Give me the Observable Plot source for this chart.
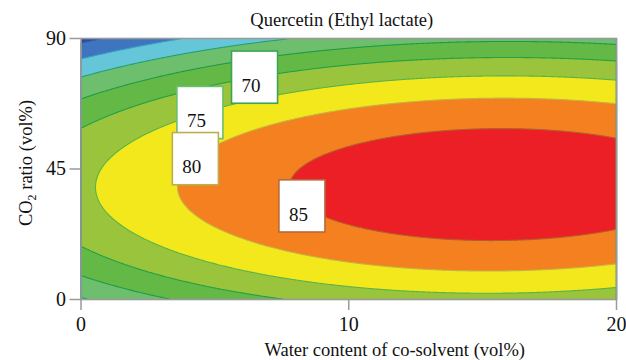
<!DOCTYPE html>
<html>
<head>
<meta charset="utf-8">
<script src="https://cdn.jsdelivr.net/npm/d3@7"></script>
<script src="https://cdn.jsdelivr.net/npm/@observablehq/plot@0.6"></script>
<style>
  html, body { margin: 0; padding: 0; background: #fff; }
</style>
</head>
<body>
<div id="chart"></div>
<script>
// ---- data ----
const title = "Quercetin (Ethyl lactate)";
const xLabel = "Water content of co-solvent (vol%)";
const yLabelMain = "CO";
const yLabelSub = "2";
const yLabelRest = " ratio (vol%)";
const xTicks = [0, 10, 20];
const yTicks = [0, 45, 90];
const xDomain = [0, 20];
const yDomain = [0, 90];

// second-order response surface (terms: 1, x, y, x², y², xy), estimated from contour positions
const surfaceTerms = ["1", "x", "y", "x2", "y2", "xy"];
const surfaceCoefs = [59.47, 1.840, 0.7508, -0.0608, -0.0097, 0.00116];

// filled bands
const fillThresholds = [40, 50, 55, 60, 65, 70, 75, 80, 85];
const bandEdges = [50, 55, 60, 65, 70, 75, 80, 85];
const bandColors = ["#2c4c9f", "#3f74bf", "#64c6d8", "#6dbf6d", "#63b846", "#99c43c", "#f2e81c", "#f4801f", "#ec1f26"];

// contour lines
const lineLevels = [50, 55, 60, 65, 70, 75, 80, 85];
const lineColors = ["#2f5fa8", "#3a9fc6", "#23a070", "#1f9a48", "#22a046", "#5ab348", "#c4b444", "#b0602c"];

// contour labels
const labelLevels = [70, 75, 80, 85];
const labelX = [6.50, 4.46, 4.29, 8.27];
const labelY = [76.5, 64.3, 48.4, 32.1];
const labelColors = ["#3aa655", "#6abf6a", "#b9b04c", "#b8683a"];

// ---- build ----
const surface = (x, y) => {
  const t = [1, x, y, x * x, y * y, x * y];
  return d3.sum(t, (v, i) => v * surfaceCoefs[i]);
};

const labels = labelLevels.map((v, i) => ({level: v, x: labelX[i], y: labelY[i], color: labelColors[i]}));

const font = "Liberation Serif, Times New Roman, serif";
const marks = [];

marks.push(Plot.contour({
  value: surface, x1: xDomain[0], x2: xDomain[1], y1: yDomain[0], y2: yDomain[1],
  thresholds: fillThresholds, fill: "value", stroke: "none", pixelSize: 1
}));

lineLevels.forEach((lv, i) => {
  marks.push(Plot.contour({
    value: surface, x1: xDomain[0], x2: xDomain[1], y1: yDomain[0], y2: yDomain[1],
    thresholds: [lv], fill: "none", stroke: lineColors[i], strokeWidth: 1.1, pixelSize: 1
  }));
});

marks.push(Plot.frame({stroke: "#9a9a9a", strokeWidth: 1.6}));

marks.push(Plot.axisX(xTicks, {
  tickSize: 11, tickPadding: 6, stroke: "#9a9a9a", strokeWidth: 1.5,
  fill: "#111", fontSize: 20, label: null
}));
marks.push(Plot.axisY(yTicks, {
  tickSize: 11, tickPadding: 4, stroke: "#9a9a9a", strokeWidth: 1.5,
  fill: "#111", fontSize: 20, label: null
}));

labels.forEach(d => {
  marks.push(Plot.rect([d], {
    x1: e => e.x - 0.86, x2: e => e.x + 0.86,
    y1: e => e.y - 9, y2: e => e.y + 9,
    fill: "white", stroke: d.color, strokeWidth: 1.6
  }));
  marks.push(Plot.text([d], {
    x: "x", y: "y", text: e => String(e.level),
    dx: -4, dy: 8, fontSize: 19, fill: "#111"
  }));
});

marks.push(Plot.text([title], {frameAnchor: "top", lineAnchor: "middle", dy: -18, dx: -7, fontSize: 18.5, fill: "#111"}));
marks.push(Plot.text([xLabel], {frameAnchor: "bottom", lineAnchor: "middle", dy: 51, dx: 46, fontSize: 18.5, fill: "#111"}));

const chart = Plot.plot({
  width: 626,
  height: 360,
  marginLeft: 80.5,
  marginRight: 10,
  marginTop: 38,
  marginBottom: 61,
  style: {fontFamily: font, background: "#fff"},
  x: {domain: xDomain, axis: null},
  y: {domain: yDomain, axis: null},
  color: {type: "threshold", domain: bandEdges, range: bandColors},
  marks
});

// y-axis title with subscript
const svg = d3.select(chart);
const yl = svg.append("text")
  .attr("transform", "translate(28,163) rotate(-90)")
  .attr("text-anchor", "middle")
  .attr("dominant-baseline", "middle")
  .attr("font-family", font)
  .attr("font-size", 18.5)
  .attr("fill", "#111");
yl.append("tspan").text(yLabelMain);
yl.append("tspan").attr("font-size", 12).attr("dy", 5).text(yLabelSub);
yl.append("tspan").attr("dy", -5).text(yLabelRest);

document.getElementById("chart").appendChild(chart);
</script>
</body>
</html>
